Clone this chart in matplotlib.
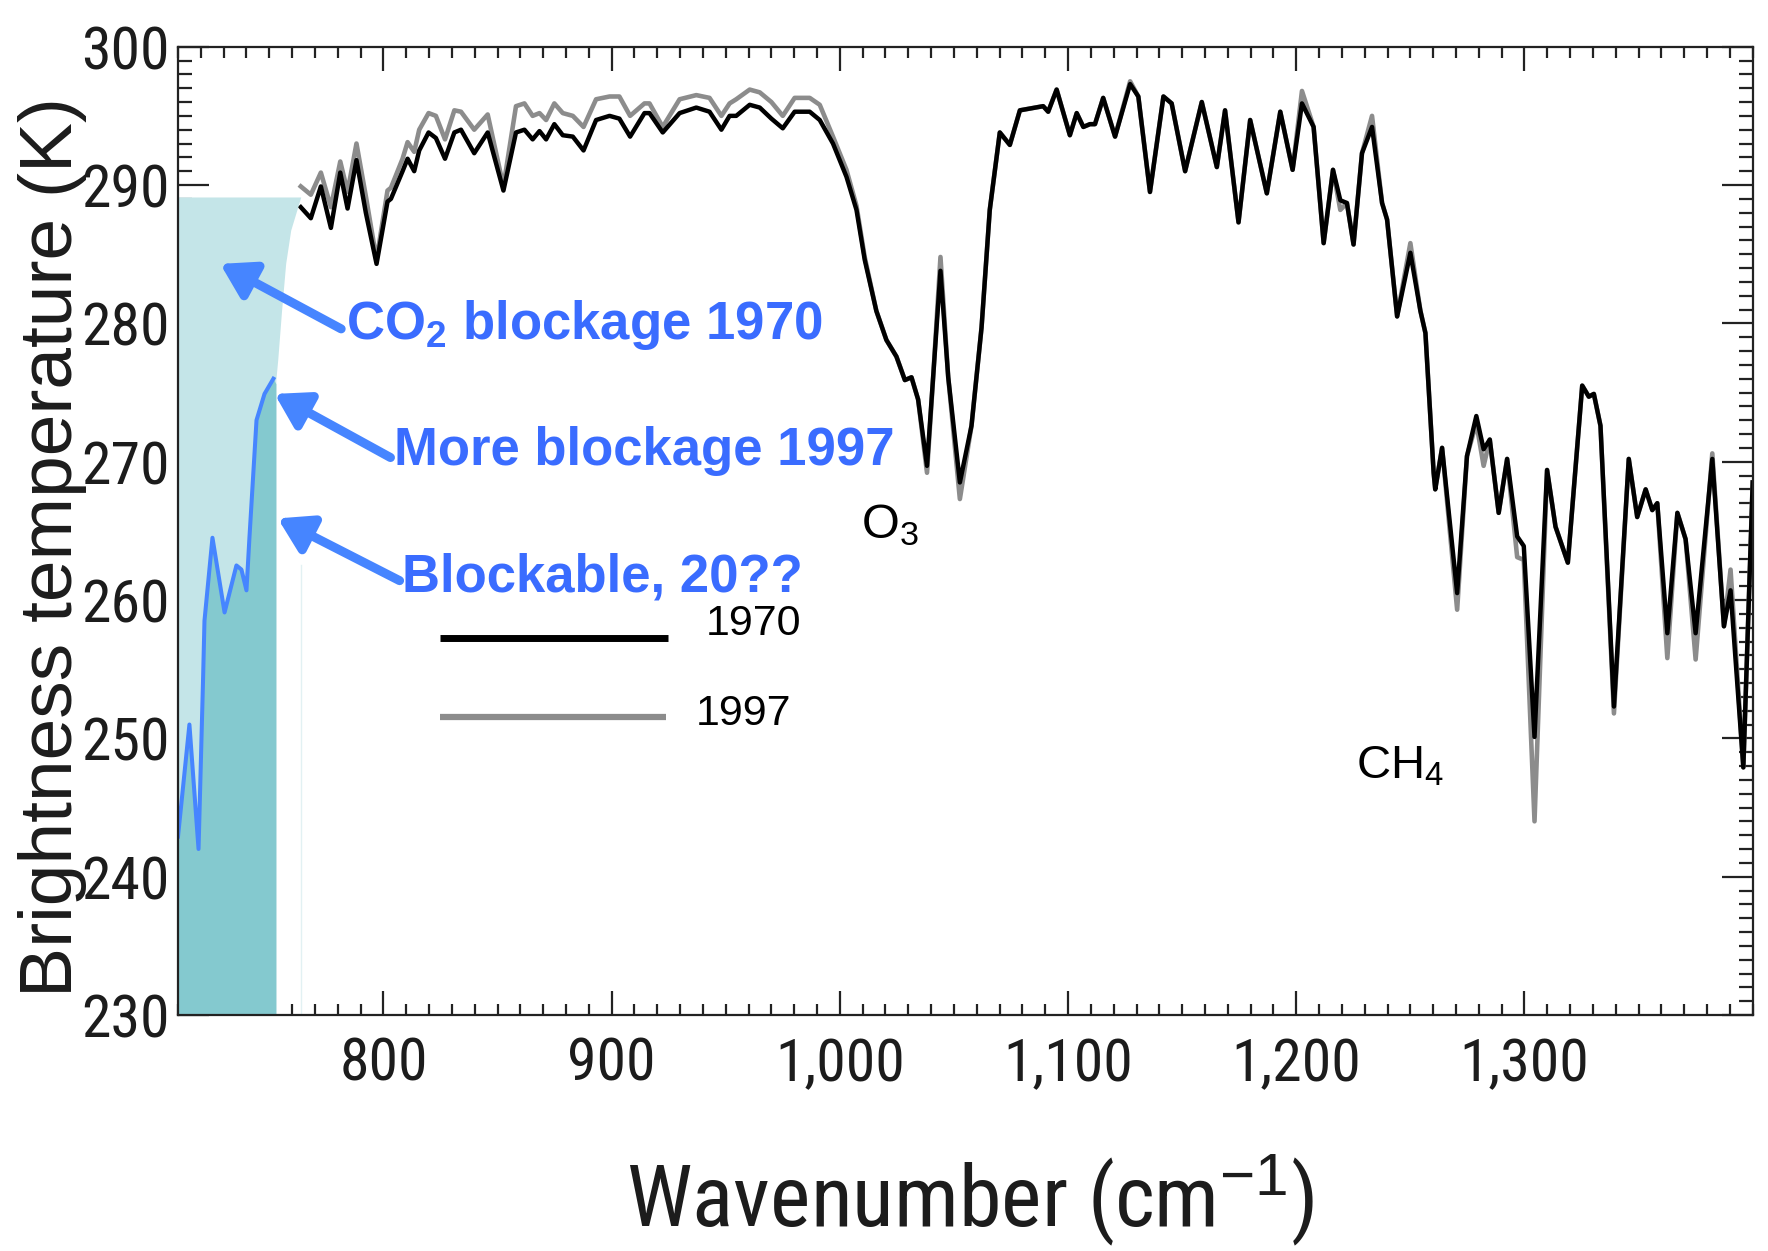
import matplotlib.pyplot as plt
from matplotlib import font_manager
from matplotlib.ticker import MultipleLocator

plt.rcParams['font.family'] = ['Liberation Sans', 'DejaVu Sans']
plt.rcParams['mathtext.fontset'] = 'custom'
plt.rcParams['mathtext.rm'] = 'Liberation Sans'
plt.rcParams['mathtext.it'] = 'Liberation Sans:italic'
plt.rcParams['mathtext.bf'] = 'Liberation Sans:bold'

# axis numbers use a narrow face when one is installed
_names = {f.name for f in font_manager.fontManager.ttflist}
_narrow = [n for n in ('Liberation Sans Narrow', 'Arial Narrow', 'Roboto Condensed',
                       'Open Sans Condensed', 'Noto Sans Condensed') if n in _names]
if _narrow:
    NUM_FONT, NUM_SIZE, XLAB_SIZE = [_narrow[0], 'Liberation Sans'], 43, 62
else:
    NUM_FONT, NUM_SIZE, XLAB_SIZE = ['Liberation Sans', 'DejaVu Sans'], 36, 55

# brightness temperature spectra (wavenumber in cm-1, temperature in K)
wn = [763.8, 768.2, 772.6, 777.0, 781.1, 784.3, 788.2, 792.3, 797.0, 801.8,
      803.3, 808.4, 810.6, 813.5, 815.7, 819.8, 823.0, 827.0, 831.1, 834.0,
      839.8, 845.7, 852.6, 858.1, 861.8, 865.4, 868.4, 871.3, 874.9, 878.6,
      883.0, 887.7, 893.2, 899.1, 903.4, 908.1, 914.4, 916.6, 922.4, 929.8,
      937.1, 942.9, 948.1, 951.7, 954.6, 960.5, 964.9, 970.0, 975.0, 980.2,
      986.8, 991.2, 997.0, 1002.9, 1007.3, 1010.9, 1016.0, 1020.4, 1024.8, 1028.5,
      1031.4, 1034.3, 1038.2, 1040.9, 1044.1, 1047.5, 1052.6, 1057.7, 1062.1, 1065.7,
      1070.1, 1074.5, 1078.9, 1089.1, 1091.3, 1095.0, 1100.8, 1103.8, 1106.7, 1109.6,
      1111.8, 1115.4, 1120.6, 1127.2, 1130.8, 1135.9, 1141.8, 1145.4, 1151.3, 1158.6,
      1165.2, 1168.8, 1174.7, 1179.8, 1187.1, 1193.0, 1198.4, 1202.5, 1207.6, 1212.0,
      1216.1, 1219.3, 1222.2, 1225.1, 1228.8, 1233.2, 1237.6, 1239.8, 1244.2, 1250.0,
      1254.4, 1256.6, 1260.2, 1260.9, 1263.9, 1270.5, 1274.8, 1278.9, 1282.1, 1284.8,
      1288.7, 1292.4, 1296.8, 1299.7, 1304.4, 1309.9, 1313.6, 1316.5, 1319.0, 1325.3,
      1328.2, 1330.4, 1333.3, 1339.2, 1345.7, 1349.4, 1353.1, 1356.0, 1358.2, 1362.6,
      1367.0, 1370.6, 1375.0, 1382.3, 1387.4, 1390.3, 1395.9, 1400.0]

t1970 = [288.4, 287.6, 289.9, 286.9, 290.9, 288.3, 291.8, 288.0, 284.3, 288.8,
         289.0, 291.0, 291.9, 291.0, 292.5, 293.8, 293.4, 291.9, 293.8, 294.0,
         292.3, 293.8, 289.6, 293.8, 294.0, 293.3, 293.9, 293.3, 294.4, 293.6,
         293.5, 292.5, 294.7, 295.0, 294.8, 293.5, 295.2, 295.2, 293.8, 295.2,
         295.6, 295.3, 294.0, 295.0, 295.0, 295.8, 295.6, 294.8, 294.1, 295.3,
         295.3, 294.7, 293.0, 290.6, 288.2, 284.6, 280.9, 278.8, 277.6, 275.9,
         276.1, 274.5, 269.7, 276.1, 283.8, 276.1, 268.5, 272.6, 279.7, 288.2,
         293.8, 292.9, 295.4, 295.7, 295.3, 296.9, 293.6, 295.2, 294.2, 294.4,
         294.4, 296.3, 293.5, 297.3, 296.4, 289.5, 296.4, 295.9, 291.0, 296.0,
         291.3, 295.4, 287.3, 294.7, 289.4, 295.3, 291.1, 295.9, 294.2, 285.8,
         291.1, 288.9, 288.7, 285.7, 292.3, 294.2, 288.7, 287.5, 280.5, 285.1,
         280.9, 279.3, 269.2, 268.0, 271.0, 260.5, 270.4, 273.3, 270.9, 271.6,
         266.3, 270.2, 264.6, 263.9, 250.1, 269.4, 265.3, 263.9, 262.7, 275.5,
         274.7, 274.9, 272.6, 252.3, 270.2, 266.0, 268.0, 266.5, 267.0, 257.6,
         266.3, 264.4, 257.6, 270.2, 258.1, 260.7, 247.9, 268.5]

t1997 = [289.9, 289.3, 290.9, 288.4, 291.7, 289.5, 293.0, 289.2, 284.6, 289.6,
         289.8, 291.9, 293.1, 292.4, 294.0, 295.2, 295.0, 293.3, 295.4, 295.3,
         294.0, 295.1, 289.9, 295.7, 295.9, 295.0, 295.2, 294.7, 295.9, 295.2,
         295.0, 294.2, 296.2, 296.4, 296.4, 295.0, 295.9, 295.9, 294.2, 296.2,
         296.5, 296.3, 295.0, 295.9, 296.2, 296.9, 296.7, 296.0, 295.0, 296.3,
         296.3, 295.8, 293.5, 291.1, 288.5, 284.8, 280.9, 278.8, 277.6, 275.9,
         276.1, 274.5, 269.2, 276.1, 284.8, 276.1, 267.3, 272.6, 279.7, 288.2,
         293.8, 292.9, 295.4, 295.7, 295.3, 296.9, 293.6, 295.2, 294.2, 294.4,
         294.4, 296.3, 293.5, 297.5, 296.4, 289.5, 296.4, 295.9, 291.0, 296.0,
         291.3, 295.4, 287.3, 294.7, 289.4, 295.3, 291.1, 296.8, 294.2, 285.8,
         291.1, 288.2, 288.7, 285.7, 292.3, 295.0, 288.7, 287.5, 280.5, 285.8,
         280.9, 279.3, 269.2, 268.0, 271.0, 259.3, 270.4, 272.8, 269.7, 271.6,
         266.3, 270.2, 263.1, 262.9, 244.0, 269.4, 265.3, 263.9, 262.7, 275.5,
         274.7, 274.9, 272.6, 251.8, 270.2, 266.0, 268.0, 266.5, 267.0, 255.8,
         266.3, 264.4, 255.7, 270.6, 258.1, 262.2, 247.9, 268.5]

years = ['1970', '1997']

# CO2 band already blocked in 1970 (outline of the pale region)
co2_wn = [710.0, 764.0, 759.6, 757.4, 755.6, 753.9, 753.1, 753.1, 710.0]
co2_k = [289.1, 289.1, 286.7, 284.3, 280.9, 277.3, 275.9, 230.0, 230.0]

# 1997 spectrum inside the CO2 band
band_wn = [710.0, 715.0, 719.0, 721.0, 721.6, 725.1, 730.4, 735.6, 737.8, 740.0,
           741.3, 744.4, 747.9, 751.8]
band_k = [242.9, 251.0, 242.0, 254.4, 258.5, 264.5, 259.1, 262.5, 262.2, 260.7,
          264.5, 273.0, 274.9, 276.0]
band_edge_wn = 753.1
band_edge_k = 275.6

xticks = [800, 900, 1000, 1100, 1200, 1300]
xticklabels = ['800', '900', '1,000', '1,100', '1,200', '1,300']
yticks = [230, 240, 250, 260, 270, 280, 290, 300]

BLUE_TXT = '#3a6cff'
BLUE_ARR = '#4685ff'
INK = '#1c1c1c'

fig = plt.figure(figsize=(17.68, 12.51), dpi=100)
ax = fig.add_axes([0.10068, 0.18865, 0.89066, 0.77402])

ax.plot(wn, t1997, color='#8c8c8c', lw=3.3, zorder=2, solid_joinstyle='round')
ax.plot(wn, t1970, color='black', lw=3.2, zorder=3, solid_joinstyle='round')

# shaded CO2 band
ax.fill(co2_wn, co2_k, color='#c4e5e8', lw=0, zorder=4)
ax.plot([co2_wn[1], co2_wn[1]], [230, 262.5], color='#e2f1f3', lw=1, zorder=4)
ax.fill(band_wn + [band_edge_wn, band_edge_wn, band_wn[0]],
        band_k + [band_edge_k, 230, 230], color='#84c9cf', lw=0, zorder=5)
ax.plot(band_wn, band_k, color=BLUE_ARR, lw=2.9, zorder=6, solid_joinstyle='round')

ax.set_xlim(710, 1400)
ax.set_ylim(230, 300)
ax.set_xticks(xticks)
ax.set_xticklabels(xticklabels)
ax.set_yticks(yticks)
ax.xaxis.set_minor_locator(MultipleLocator(10))
ax.yaxis.set_minor_locator(MultipleLocator(1))
ax.tick_params(which='both', direction='in', top=True, right=True,
               width=1.6, color='#222222')
ax.tick_params(axis='x', which='major', length=17, pad=15)
ax.tick_params(axis='x', which='minor', length=8)
ax.tick_params(axis='y', which='major', length=22, pad=6)
ax.tick_params(axis='y', which='minor', length=10)
for lab in ax.get_xticklabels() + ax.get_yticklabels():
    lab.set_family(NUM_FONT)
    lab.set_fontsize(NUM_SIZE)
    lab.set_color(INK)
for sp in ax.spines.values():
    sp.set_linewidth(1.6)
    sp.set_color('#222222')
    sp.set_zorder(7)

ax.set_ylabel('Brightness temperature (K)', fontsize=54, color=INK)
ax.yaxis.set_label_coords(-0.058, 0.483)
ax.text(0.503, -0.219, r'Wavenumber (cm$^{-1}$)', transform=ax.transAxes,
        ha='center', va='baseline', fontsize=XLAB_SIZE, family=NUM_FONT, color=INK)

# annotations pointing into the CO2 band
notes = [
    (r'CO$_{\mathbf{2}}$ blockage 1970', (783.7, 278.9), (728.5, 284.3), (781.5, 279.6)),
    ('More blockage 1997', (804.7, 269.75), (752.3, 274.9), (803.1, 270.3)),
    ('Blockable, 20??', (808.1, 260.6), (753.7, 265.9), (807.1, 261.4)),
]
for txt, pos, tip, tail in notes:
    ax.text(pos[0], pos[1], txt, fontsize=38, fontweight='bold', color=BLUE_TXT,
            ha='left', va='baseline', zorder=8)
    ax.annotate('', xy=tip, xytext=tail, zorder=8,
                arrowprops=dict(arrowstyle='-|>,head_length=0.9,head_width=0.55',
                                mutation_scale=22, lw=6.5, color=BLUE_ARR,
                                shrinkA=0, shrinkB=0))

ax.text(1009.4, 264.45, r'O$_3$', fontsize=35, color='black', ha='left', va='baseline')
ax.text(1226.3, 247.1, r'CH$_4$', fontsize=34, color='black', ha='left', va='baseline')

# year key
ax.plot([0.1664, 0.3112], [0.3893, 0.3893], transform=ax.transAxes,
        color='black', lw=5, solid_capstyle='butt')
ax.plot([0.1664, 0.3100], [0.3078, 0.3078], transform=ax.transAxes,
        color='#8c8c8c', lw=4.5, solid_capstyle='butt')
ax.text(0.3353, 0.4037, years[0], transform=ax.transAxes, fontsize=31,
        ha='left', va='center', color='black')
ax.text(0.3290, 0.3108, years[1], transform=ax.transAxes, fontsize=31,
        ha='left', va='center', color='black')

fig.savefig('out.png', dpi=100, facecolor='white')
